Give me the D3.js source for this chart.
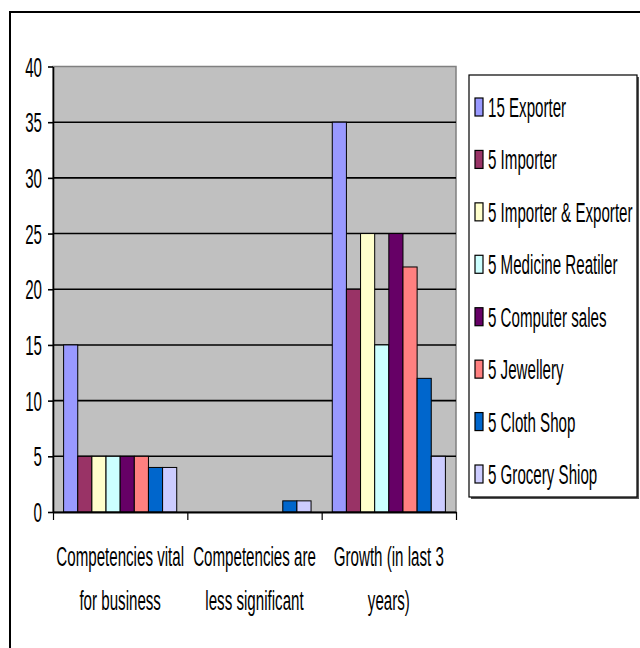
<!DOCTYPE html>
<html lang="en">
<head>
    <meta charset="UTF-8">
    <title>Competencies chart</title>
    <script src="https://d3js.org/d3.v7.min.js"></script>
    <style>
        body { margin: 0; background: #fff; }
        svg { display: block; font-family: 'Liberation Sans', Arial, sans-serif; }
    </style>
</head>
<body>
    <svg id="chart" width="640" height="648"></svg>

    <script>
        // chart data
        const categories = [
            "Competencies vital\nfor business",
            "Competencies are\nless significant",
            "Growth (in last 3\nyears)"
        ];
        const seriesNames = [
            "15 Exporter", "5 Importer", "5 Importer & Exporter", "5 Medicine Reatiler",
            "5 Computer sales", "5 Jewellery", "5 Cloth Shop", "5 Grocery Shiop"
        ];
        const seriesColors = ["#9999ff", "#993366", "#ffffcc", "#ccffff", "#660066", "#ff8080", "#0066cc", "#ccccff"];
        // one array per series, one value per category
        const exporter       = [15, 0, 35];
        const importer       = [5, 0, 20];
        const impExp         = [5, 0, 25];
        const medicine       = [5, 0, 15];
        const computer       = [5, 0, 25];
        const jewellery      = [5, 0, 22];
        const cloth          = [4, 1, 12];
        const grocery        = [4, 1, 5];
        const seriesValues = [exporter, importer, impExp, medicine, computer, jewellery, cloth, grocery];
        const yTicks = [0, 5, 10, 15, 20, 25, 30, 35, 40];

        const svg = d3.select("#chart");
        const plot = { left: 53, right: 456, top: 66.5, bottom: 512 };
        const FS = 28, SX = 0.54;   // tall narrow lettering of the original

        // narrow text helper
        function label(g, x, y, str, anchor) {
            return g.append("text")
                .attr("transform", `translate(${x},${y}) scale(${SX},1)`)
                .attr("text-anchor", anchor || "start")
                .attr("font-size", FS)
                .attr("fill", "#000")
                .text(str);
        }

        // outer chart frame (runs off the right/bottom of the window)
        svg.append("rect")
            .attr("x", 10).attr("y", 12)
            .attr("width", 700).attr("height", 700)
            .attr("fill", "none").attr("stroke", "#000").attr("stroke-width", 2);

        const x = d3.scaleBand().domain(d3.range(categories.length))
            .range([plot.left, plot.right]);
        const xs = d3.scaleBand().domain(d3.range(seriesNames.length))
            .range([0, x.bandwidth()]).paddingInner(0).paddingOuter(0.75);
        const y = d3.scaleLinear().domain([0, 40]).range([plot.bottom, plot.top]);

        // plot background
        svg.append("rect")
            .attr("x", plot.left).attr("y", plot.top)
            .attr("width", plot.right - plot.left).attr("height", plot.bottom - plot.top)
            .attr("fill", "#c0c0c0").attr("stroke", "#808080").attr("stroke-width", 1.5);

        // gridlines
        svg.append("g").selectAll("line")
            .data(yTicks.filter(d => d > 0 && d < 40))
            .join("line")
            .attr("x1", plot.left).attr("x2", plot.right)
            .attr("y1", d => y(d)).attr("y2", d => y(d))
            .attr("stroke", "#000").attr("stroke-width", 1.6);

        // bars
        seriesValues.forEach((vals, si) => {
            svg.append("g").selectAll("rect")
                .data(vals)
                .join("rect")
                .attr("x", (d, ci) => x(ci) + xs(si))
                .attr("y", d => y(d))
                .attr("width", xs.bandwidth())
                .attr("height", d => y(0) - y(d))
                .attr("fill", seriesColors[si])
                .attr("stroke", d => d > 0 ? "#000" : "none")
                .attr("stroke-width", 1);
        });

        // y axis
        const yAxis = svg.append("g")
            .attr("transform", `translate(${plot.left},0)`)
            .call(d3.axisLeft(y).tickValues(yTicks).tickSize(5).tickSizeOuter(0).tickFormat(""));
        yAxis.select(".domain").attr("stroke", "#000").attr("stroke-width", 1.6);
        yAxis.selectAll(".tick line").attr("stroke", "#000").attr("stroke-width", 1.6);
        yTicks.forEach(t => label(svg, 42, y(t) + 10, String(t), "end"));

        // x axis, ticks at category boundaries
        const xEdge = d3.scaleLinear().domain([0, categories.length]).range([plot.left, plot.right]);
        const xAxis = svg.append("g")
            .attr("transform", `translate(0,${plot.bottom})`)
            .call(d3.axisBottom(xEdge).tickValues(d3.range(categories.length + 1)).tickSize(8).tickSizeOuter(0).tickFormat(""));
        xAxis.select(".domain").attr("stroke", "#000").attr("stroke-width", 2);
        xAxis.selectAll(".tick line").attr("stroke", "#000").attr("stroke-width", 1.2);

        categories.forEach((c, ci) => {
            const cx = x(ci) + x.bandwidth() / 2;
            c.split("\n").forEach((line, li) => label(svg, cx, 566 + li * 44, line, "middle"));
        });

        // legend
        const lg = { x: 469, y: 75, w: 168, h: 422 };
        svg.append("rect")
            .attr("x", lg.x + 2).attr("y", lg.y + 2).attr("width", lg.w).attr("height", lg.h)
            .attr("fill", "#555");
        svg.append("rect")
            .attr("x", lg.x).attr("y", lg.y).attr("width", lg.w).attr("height", lg.h)
            .attr("fill", "#fff").attr("stroke", "#000").attr("stroke-width", 1.2);

        const ly = d3.scaleLinear().domain([0, seriesNames.length - 1]).range([107, 474]);
        seriesNames.forEach((name, si) => {
            svg.append("rect")
                .attr("x", 475).attr("y", ly(si) - 9)
                .attr("width", 8).attr("height", 18)
                .attr("fill", seriesColors[si]).attr("stroke", "#000").attr("stroke-width", 1.2);
            label(svg, 488, ly(si) + 10, name);
        });
    </script>
</body>
</html>
